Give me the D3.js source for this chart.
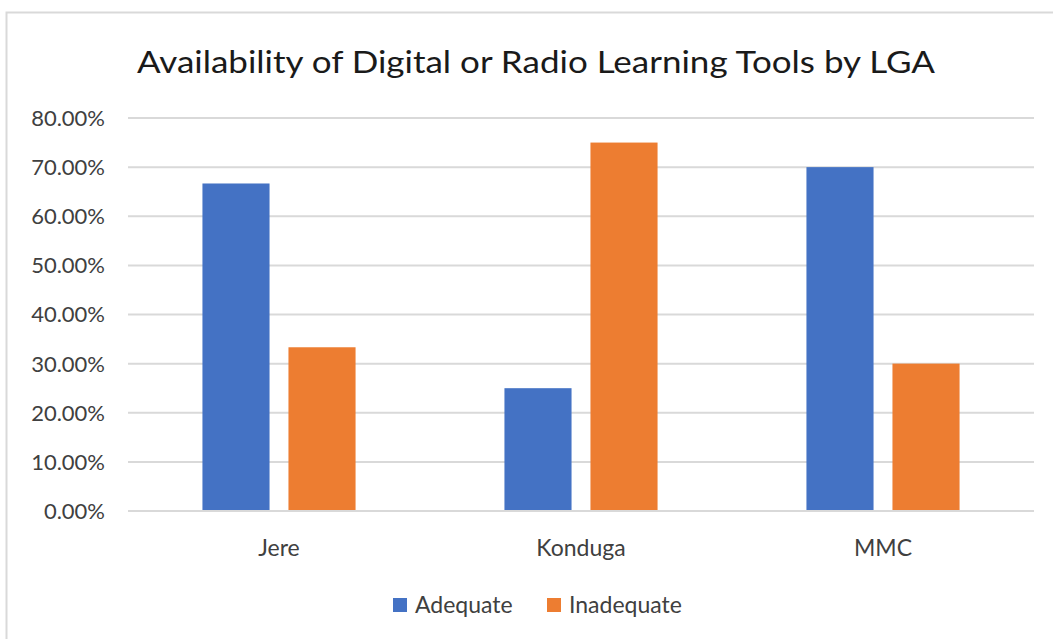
<!DOCTYPE html>
<html>
<head>
<meta charset="utf-8">
<script src="https://cdn.jsdelivr.net/npm/d3@7"></script>
<style>
  body { margin: 0; background: #fff; }
  svg { display: block; font-family: Lato, "Open Sans", sans-serif; }
</style>
</head>
<body>
<div id="container"></div>
<script>
// chart values
const categories = ["Jere", "Konduga", "MMC"]
const seriesNames = ["Adequate", "Inadequate"]
const adequate = [0.6667, 0.25, 0.70]
const inadequate = [0.3333, 0.75, 0.30]
const yTicks = [0, 0.1, 0.2, 0.3, 0.4, 0.5, 0.6, 0.7, 0.8]
const colors = ["#4472C4", "#ED7D31"]

const width = 1053
const height = 639

const svg = d3.select("#container").append("svg")
  .attr("width", width)
  .attr("height", height)

// chart frame (cropped right and bottom, like the picture)
svg.append("path")
  .attr("d", "M6.5,639 L6.5,12.5 L1053,12.5")
  .style("fill", "none")
  .style("stroke", "#d9d9d9")
  .style("stroke-width", 2)

svg.append("text")
  .attr("x", 536)
  .attr("y", 73)
  .attr("text-anchor", "middle")
  .style("font-size", "30px")
  .style("fill", "#1a1a1a")
  .attr("textLength", 798)
  .attr("lengthAdjust", "spacingAndGlyphs")
  .text("Availability of Digital or Radio Learning Tools by LGA")

const plot = { left: 128, right: 1034, top: 118, bottom: 511 }

const y = d3.scaleLinear()
  .domain([0, 0.8])
  .range([plot.bottom, plot.top])

const x0 = d3.scaleBand()
  .domain(categories)
  .range([plot.left, plot.right])
  .paddingInner(0.493)
  .paddingOuter(0.2465)

const x1 = d3.scaleBand()
  .domain(seriesNames)
  .range([0, x0.bandwidth()])
  .paddingInner(0.22)

// gridlines
svg.append("g")
  .selectAll("line")
  .data(yTicks)
  .join("line")
  .attr("x1", plot.left)
  .attr("x2", plot.right)
  .attr("y1", d => y(d))
  .attr("y2", d => y(d))
  .style("stroke", "#d9d9d9")
  .style("stroke-width", 2)

// y tick labels
svg.append("g")
  .selectAll("text")
  .data(yTicks)
  .join("text")
  .attr("x", 105)
  .attr("y", d => y(d))
  .attr("dy", "0.36em")
  .attr("text-anchor", "end")
  .style("font-size", "22px")
  .style("fill", "#404040")
  .text(d => d3.format(".2%")(d))

// bars
const rows = categories.map((c, i) => ({ cat: c, values: [adequate[i], inadequate[i]] }))

svg.append("g")
  .selectAll("g")
  .data(rows)
  .join("g")
  .attr("transform", d => `translate(${x0(d.cat)},0)`)
  .selectAll("rect")
  .data(d => d.values.map((v, j) => ({ name: seriesNames[j], value: v, j })))
  .join("rect")
  .attr("x", d => x1(d.name))
  .attr("y", d => y(d.value))
  .attr("width", x1.bandwidth())
  .attr("height", d => y(0) - y(d.value))
  .style("fill", d => colors[d.j])

// zero line on top
svg.append("line")
  .attr("x1", plot.left)
  .attr("x2", plot.right)
  .attr("y1", y(0))
  .attr("y2", y(0))
  .style("stroke", "#d9d9d9")
  .style("stroke-width", 2)

// category labels
svg.append("g")
  .selectAll("text")
  .data(categories)
  .join("text")
  .attr("x", d => x0(d) + x0.bandwidth() / 2)
  .attr("y", 556)
  .attr("text-anchor", "middle")
  .style("font-size", "23px")
  .style("fill", "#404040")
  .text(d => d)

// legend
const legendX = [393, 547]
const legend = svg.append("g")
  .selectAll("g")
  .data(seriesNames)
  .join("g")
  .attr("transform", (d, i) => `translate(${legendX[i]},598)`)

legend.append("rect")
  .attr("width", 14)
  .attr("height", 14)
  .style("fill", (d, i) => colors[i])

legend.append("text")
  .attr("x", 22)
  .attr("y", 15)
  .style("font-size", "23px")
  .style("fill", "#404040")
  .text(d => d)
</script>
</body>
</html>
